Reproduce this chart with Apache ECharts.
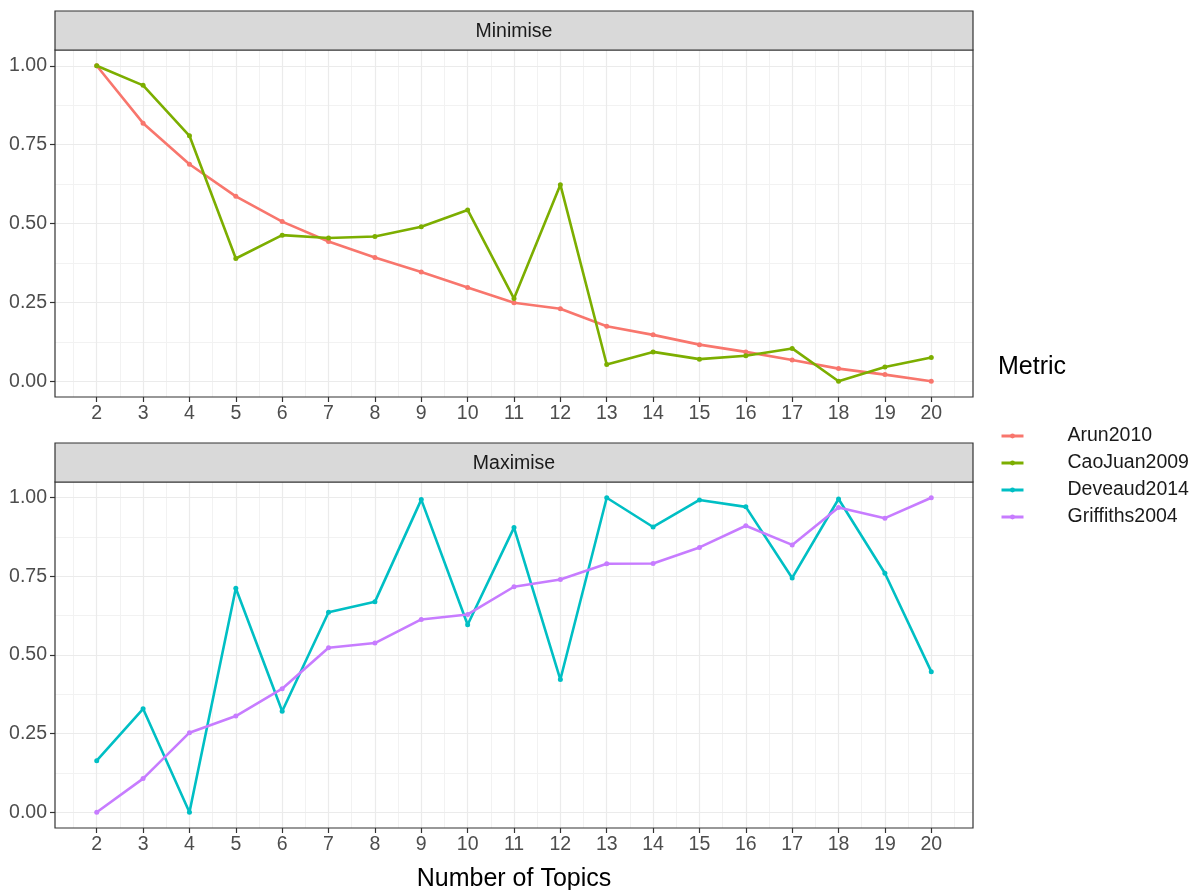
<!DOCTYPE html>
<html><head><meta charset="utf-8">
<script src="https://cdn.jsdelivr.net/npm/echarts@6/dist/echarts.min.js"></script>
<style>html,body{margin:0;padding:0;background:#fff}#c{width:1198px;height:890px}</style>
</head><body><div id="c"></div>
<script>
const topics = [2,3,4,5,6,7,8,9,10,11,12,13,14,15,16,17,18,19,20];
const arun2010 = [1.000,0.818,0.688,0.586,0.506,0.443,0.392,0.346,0.297,0.249,0.230,0.174,0.147,0.116,0.093,0.067,0.040,0.021,0.000];
const caoJuan2009 = [1.000,0.938,0.778,0.389,0.463,0.454,0.459,0.490,0.543,0.262,0.623,0.053,0.093,0.070,0.081,0.104,0.000,0.045,0.075];
const deveaud2014 = [0.164,0.329,0.000,0.712,0.321,0.636,0.669,0.994,0.596,0.905,0.422,1.000,0.907,0.993,0.971,0.745,0.996,0.760,0.447];
const griffiths2004 = [0.000,0.107,0.253,0.306,0.393,0.523,0.538,0.613,0.629,0.717,0.740,0.790,0.791,0.842,0.911,0.850,0.969,0.935,1.000];
const xTicks = [2,3,4,5,6,7,8,9,10,11,12,13,14,15,16,17,18,19,20];
const xMinor = [1.5,2.5,3.5,4.5,5.5,6.5,7.5,8.5,9.5,10.5,11.5,12.5,13.5,14.5,15.5,16.5,17.5,18.5,19.5,20.5];
const yTicks = [0,0.25,0.5,0.75,1];
const yMinor = [0.125,0.375,0.625,0.875];
const panelNames = ['Minimise','Maximise'];
const seriesNames = ['Arun2010','CaoJuan2009','Deveaud2014','Griffiths2004'];
const colors = ['#F8766D','#7CAE00','#00BFC4','#C77CFF'];

const FONT = 'Liberation Sans, Arial, sans-serif';
const SMALL = 19.5, BIG = 25;
const grids = [
  {left:55, top:50, width:918, height:347},
  {left:55, top:482, width:918, height:346}
];
const xAxes = [], yAxes = [];
grids.forEach((g, i) => {
  xAxes.push({
    type:'value', gridIndex:i, position:'bottom', min:1.1, max:20.9, minInterval:1, maxInterval:1, splitNumber:20,
    axisLine:{show:false, onZero:false},
    axisTick:{show:true, inside:false, length:5, lineStyle:{color:'#333333', width:1.2}, customValues:xTicks},
    axisLabel:{color:'#4D4D4D', fontSize:SMALL, fontFamily:FONT, margin:7, customValues:xTicks},
    splitLine:{show:true, lineStyle:{color:'#EBEBEB', width:1.2}},
    z:2
  });
  xAxes.push({
    type:'value', gridIndex:i, position:'bottom', min:1.1, max:20.9, minInterval:1, maxInterval:1, splitNumber:20,
    axisLine:{show:false, onZero:false}, axisLabel:{show:false},
    axisTick:{show:false, customValues:xMinor},
    splitLine:{show:true, lineStyle:{color:'#F2F2F2', width:1}},
    z:1
  });
  yAxes.push({
    type:'value', gridIndex:i, position:'left', min:-0.05, max:1.05, minInterval:0.25, maxInterval:0.25, splitNumber:4,
    axisLine:{show:false, onZero:false},
    axisTick:{show:true, inside:false, length:5, lineStyle:{color:'#333333', width:1.2}, customValues:yTicks},
    axisLabel:{color:'#4D4D4D', fontSize:SMALL, fontFamily:FONT, margin:8, customValues:yTicks,
      formatter: v => Number(v).toFixed(2)},
    splitLine:{show:true, lineStyle:{color:'#EBEBEB', width:1.2}},
    z:2
  });
  yAxes.push({
    type:'value', gridIndex:i, position:'left', min:-0.05, max:1.05, minInterval:0.25, maxInterval:0.25, splitNumber:4,
    axisLine:{show:false, onZero:false}, axisLabel:{show:false},
    axisTick:{show:false, customValues:yMinor},
    splitLine:{show:true, lineStyle:{color:'#F2F2F2', width:1}},
    z:1
  });
});

function mk(name, vals, color, panel) {
  return {
    name, type:'line', xAxisIndex:panel*2, yAxisIndex:panel*2,
    data: topics.map((t, k) => [t, vals[k]]),
    symbol:'circle', symbolSize:5, showSymbol:true,
    lineStyle:{color, width:2.6}, itemStyle:{color},
    emphasis:{disabled:true}, animation:false, z:5
  };
}

const chart = echarts.init(document.getElementById('c'), null, {renderer:'canvas'});
const g0 = grids[0], g1 = grids[1];
chart.setOption({
  backgroundColor:'#ffffff',
  animation:false,
  grid: grids.map(g => ({...g, show:true, borderColor:'#333333', borderWidth:1.2, backgroundColor:'transparent', z:3})),
  xAxis: xAxes,
  yAxis: yAxes,
  legend: {
    orient:'vertical', left:1000, top:426, padding:0, data:seriesNames,
    itemWidth:22, itemHeight:6, itemGap:7,
    lineStyle:{width:3},
    textStyle:{fontSize:SMALL, fontFamily:FONT, color:'#1A1A1A', lineHeight:20, padding:[0,0,0,39]},
    selectedMode:false
  },
  graphic: [
    {type:'rect', shape:{x:g0.left, y:11, width:g0.width, height:39}, style:{fill:'#D9D9D9', stroke:'#333333', lineWidth:1.2}, z:10},
    {type:'text', x:g0.left + g0.width/2, y:32, style:{text:panelNames[0], fontSize:SMALL, fontFamily:FONT, fill:'#1A1A1A', align:'center', verticalAlign:'middle'}, z:11},
    {type:'rect', shape:{x:g1.left, y:443, width:g1.width, height:39}, style:{fill:'#D9D9D9', stroke:'#333333', lineWidth:1.2}, z:10},
    {type:'text', x:g1.left + g1.width/2, y:464, style:{text:panelNames[1], fontSize:SMALL, fontFamily:FONT, fill:'#1A1A1A', align:'center', verticalAlign:'middle'}, z:11},
    {type:'text', x:g0.left + g0.width/2, y:879, style:{text:'Number of Topics', fontSize:BIG, fontFamily:FONT, fill:'#000000', align:'center', verticalAlign:'middle'}, z:11},
    {type:'text', x:998, y:367, style:{text:'Metric', fontSize:BIG, fontFamily:FONT, fill:'#000000', align:'left', verticalAlign:'middle'}, z:11}
  ],
  series: [
    mk(seriesNames[0], arun2010, colors[0], 0),
    mk(seriesNames[1], caoJuan2009, colors[1], 0),
    mk(seriesNames[2], deveaud2014, colors[2], 1),
    mk(seriesNames[3], griffiths2004, colors[3], 1)
  ]
});
</script></body></html>
